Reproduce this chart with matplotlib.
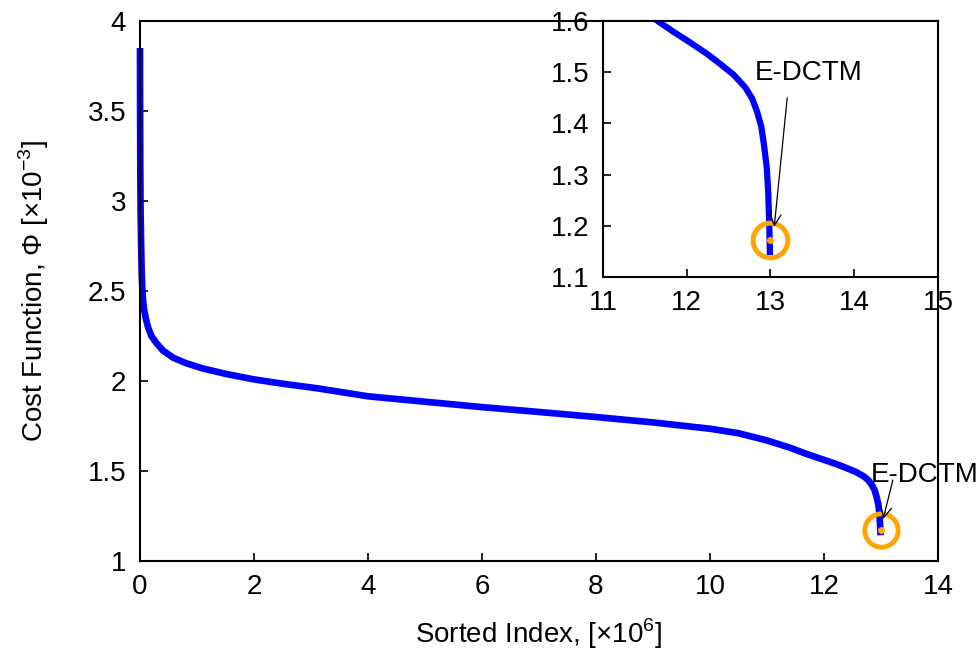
import numpy as np
import matplotlib
matplotlib.use('Agg')
import matplotlib.pyplot as plt

plt.rcParams['font.family'] = ['Liberation Sans', 'DejaVu Sans']
plt.rcParams['font.size'] = 20
plt.rcParams['mathtext.fontset'] = 'custom'
plt.rcParams['mathtext.rm'] = 'Liberation Sans'

# sorted index [x1e6] vs cost function [x1e-3]
idx = [0.0, 0.002, 0.005, 0.01, 0.02, 0.03, 0.047, 0.07, 0.1, 0.14, 0.2, 0.29,
       0.4, 0.58, 0.8, 1.1, 1.5, 1.98, 2.5, 3.1, 4.0, 5.0, 6.0, 7.0, 8.0, 9.0,
       10.0, 10.5, 11.0, 11.4, 11.66, 11.84, 12.04, 12.24, 12.4, 12.56, 12.7,
       12.78, 12.84, 12.89, 12.92, 12.955, 12.974, 12.986, 12.994]
cost = [3.85, 3.5, 3.2, 2.95, 2.75, 2.6, 2.47, 2.40, 2.35, 2.30, 2.25, 2.21,
        2.17, 2.13, 2.10, 2.07, 2.04, 2.01, 1.985, 1.96, 1.915, 1.885, 1.855,
        1.828, 1.80, 1.77, 1.735, 1.71, 1.67, 1.63, 1.599, 1.579, 1.558, 1.536,
        1.516, 1.495, 1.470, 1.449, 1.423, 1.394, 1.361, 1.315, 1.263, 1.198,
        1.143]

best_x, best_y = 12.994, 1.172   # E-DCTM solution

def style(ax):
    ax.tick_params(direction='in', length=6, width=1.2, top=False, right=False)
    ax.tick_params(axis='x', pad=9)
    ax.tick_params(axis='y', pad=10)
    for s in ax.spines.values():
        s.set_linewidth(1.5)

fig = plt.figure(figsize=(9.79, 6.55), dpi=100)
ax = fig.add_axes([0.143, 0.1435, 0.815, 0.8244])
ax.plot(idx, cost, color='blue', lw=4.8, solid_capstyle='butt', clip_on=False)
ax.plot(best_x, best_y, 'o', ms=24, mfc='none', mec='orange', mew=3.5)
ax.plot(best_x, best_y, 'o', ms=4, color='orange')
ax.text(12.82, 1.44, 'E-DCTM', ha='left', va='baseline')
ax.annotate('', xy=(13.04, 1.233), xytext=(13.21, 1.45),
            arrowprops=dict(arrowstyle='->', color='black', lw=0.9,
                            shrinkA=0, shrinkB=0))
ax.set_xlim(0, 14)
ax.set_ylim(1, 4)
ax.set_xticks(np.arange(0, 15, 2))
ax.set_yticks([1, 1.5, 2, 2.5, 3, 3.5, 4])
ax.set_yticklabels(['1', '1.5', '2', '2.5', '3', '3.5', '4'])
ax.set_xlabel(r'Sorted Index, [$\times$10$^{6}$]', labelpad=12)
ax.set_ylabel(r'Cost Function, $\Phi$ [$\times$10$^{-3}$]', labelpad=26)
style(ax)

ins = fig.add_axes([0.616, 0.577, 0.342, 0.391])
ins.plot(idx, cost, color='blue', lw=4.5, solid_capstyle='butt')
ins.plot(best_x, best_y, 'o', ms=25, mfc='none', mec='orange', mew=3.6)
ins.plot(best_x, best_y, 'o', ms=4, color='orange')
ins.text(12.815, 1.485, 'E-DCTM', ha='left', va='baseline')
ins.annotate('', xy=(13.045, 1.198), xytext=(13.2, 1.45),
             arrowprops=dict(arrowstyle='->', color='black', lw=0.9,
                             shrinkA=0, shrinkB=0))
ins.set_xlim(11, 15)
ins.set_ylim(1.1, 1.6)
ins.set_xticks([11, 12, 13, 14, 15])
ins.set_yticks([1.1, 1.2, 1.3, 1.4, 1.5, 1.6])
style(ins)

fig.savefig('out.png', dpi=100)
